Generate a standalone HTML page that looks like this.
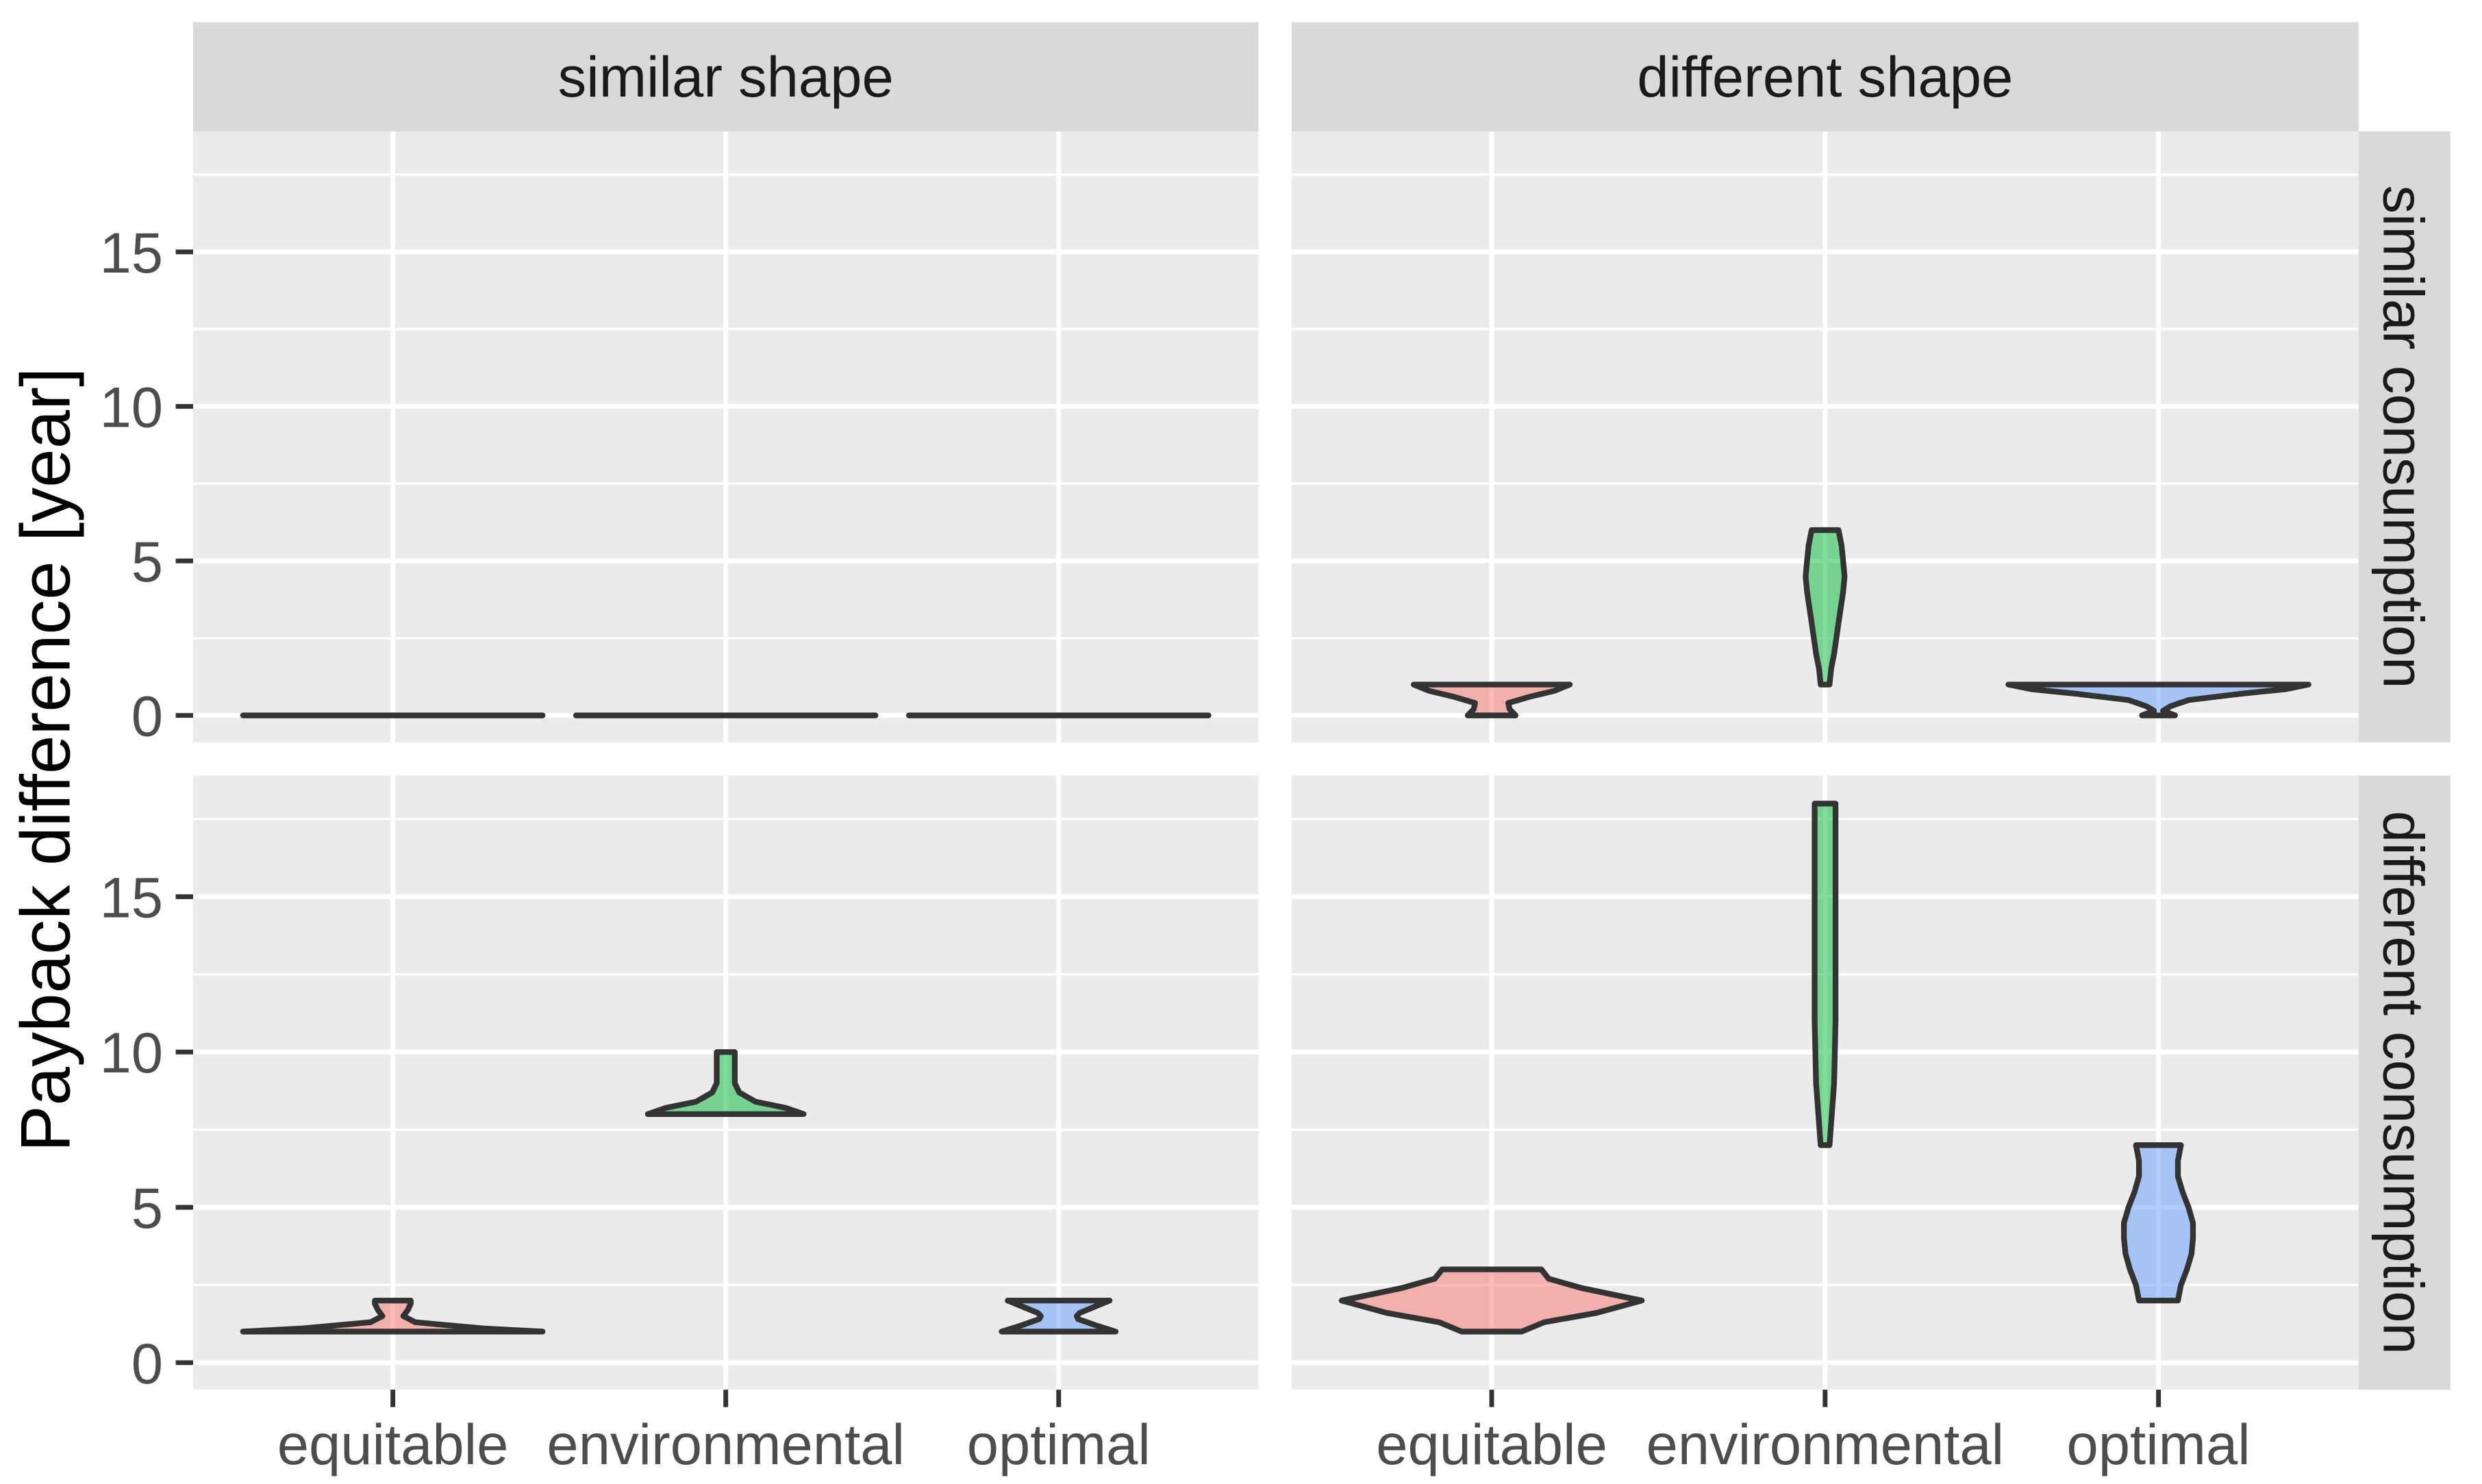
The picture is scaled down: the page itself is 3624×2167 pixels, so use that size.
<!DOCTYPE html>
<html><head><meta charset="utf-8"><style>
html,body{margin:0;padding:0;background:#fff;}
svg{display:block;font-family:"Liberation Sans",Arial,sans-serif;}
</style></head><body>
<svg id="chart" width="3624" height="2167" viewBox="0 0 1568 937.6" preserveAspectRatio="none" xmlns="http://www.w3.org/2000/svg"></svg>
<script>
const categories = ["equitable","environmental","optimal"];
const colCols = ["similar shape","different shape"];
const rowRows = ["similar consumption","different consumption"];
const yTicks = [0,5,10,15];
const yTickLabels = ["0","5","10","15"];
const violinY = [
 [ [[0,0],[0,0],[0,0]],
   [[0,0.2,0.4,0.6,0.8,1],[1,1.5,2,3,4,4.5,5,5.5,6],[0,0.15,0.3,0.5,0.7,0.85,1]] ],
 [ [[1,1.1,1.3,1.5,1.7,1.9,2],[8,8.2,8.4,8.7,9,9.5,10],[1,1.2,1.4,1.5,1.6,1.8,2]],
   [[1,1.3,1.6,2,2.4,2.7,3],[7,9,11,13,15,17,18],[2,2.5,3,3.5,4,4.5,5,5.5,6,6.5,7]] ]
];
const violinW = [
 [ [[1,1],[1,1],[1,1]],
   [[0.16,0.12,0.11,0.25,0.42,0.52],[0.03,0.04,0.06,0.09,0.12,0.13,0.12,0.11,0.09],[0.11,0.03,0.08,0.2,0.55,0.85,1]] ],
 [ [[1,0.6,0.15,0.07,0.1,0.12,0.12],[0.52,0.4,0.2,0.09,0.06,0.06,0.06],[0.38,0.25,0.13,0.12,0.14,0.24,0.34]],
   [[0.2,0.35,0.7,1,0.6,0.38,0.33],[0.03,0.06,0.07,0.07,0.07,0.07,0.07],[0.13,0.15,0.19,0.22,0.23,0.23,0.2,0.16,0.13,0.13,0.15]] ]
];
const fills = ["#F8766D","#00BA38","#619CFF"];

const NS="http://www.w3.org/2000/svg";
const svg=document.getElementById('chart');
function mk(t,a,parent){const e=document.createElementNS(NS,t);for(const k in a)e.setAttribute(k,a[k]);(parent||svg).appendChild(e);return e;}
const panelX=[[122,795],[816,1490]];
const panelY=[[83,469],[490,878]];
const yMin=-0.87,yMax=18.9;
function yScale(r,v){const [t,b]=panelY[r];return b-(v-yMin)/(yMax-yMin)*(b-t);}
function xUnit(c){const [l,r]=panelX[c];return (r-l)/3.2;}
function xScale(c,i){return panelX[c][0]+(i+0.6)*xUnit(c);}

for(let r=0;r<2;r++)for(let c=0;c<2;c++){
  const [l,rr]=panelX[c],[t,b]=panelY[r];
  const bg=mk('rect',{x:l,y:t,width:rr-l,height:b-t,fill:'#EBEBEB'});
  
  
  for(let v=2.5;v<19;v+=5){const y=yScale(r,v);const g=mk('line',{x1:l,x2:rr,y1:y,y2:y,stroke:'#fff','stroke-width':1.5});
    }
  yTicks.forEach(v=>{const y=yScale(r,v);const g=mk('line',{x1:l,x2:rr,y1:y,y2:y,stroke:'#fff','stroke-width':3});
    });
  categories.forEach((k,i)=>{const x=xScale(c,i);const g=mk('line',{x1:x,x2:x,y1:t,y2:b,stroke:'#fff','stroke-width':3});
    });
  const halfMax=0.45*xUnit(c);
  categories.forEach((k,i)=>{
    const ys=violinY[r][c][i],ws=violinW[r][c][i],cx=xScale(c,i);
    let pts=[];
    for(let j=0;j<ys.length;j++)pts.push([cx+ws[j]*halfMax,yScale(r,ys[j])]);
    for(let j=ys.length-1;j>=0;j--)pts.push([cx-ws[j]*halfMax,yScale(r,ys[j])]);
    const d='M'+pts.map(p=>p[0].toFixed(1)+','+p[1].toFixed(1)).join('L')+'Z';
    const p=mk('path',{d:d,fill:fills[i],'fill-opacity':0.5,stroke:'#333','stroke-width':3.6,'stroke-linejoin':'round'});
    
    
  });
}
colCols.forEach((s,c)=>{const [l,rr]=panelX[c];
  const g=mk('rect',{x:l,y:14,width:rr-l,height:69,fill:'#D9D9D9'});
  
  const tx=mk('text',{x:(l+rr)/2,y:61,'text-anchor':'middle','font-size':36,fill:'#1A1A1A'});tx.textContent=s;
  });
rowRows.forEach((s,r)=>{const [t,b]=panelY[r];
  const g=mk('rect',{x:1490,y:t,width:58,height:b-t,fill:'#D9D9D9'});
  
  const cy=(t+b)/2;
  const tx=mk('text',{x:1506,y:cy,'text-anchor':'middle','font-size':36,fill:'#1A1A1A',transform:`rotate(90 1506 ${cy})`});tx.textContent=s;
  });
for(let r=0;r<2;r++){yTicks.forEach((v,j)=>{const y=yScale(r,v);
  const tk=mk('line',{x1:111,x2:122,y1:y,y2:y,stroke:'#333','stroke-width':3});
  
  const tx=mk('text',{x:103,y:y+13,'text-anchor':'end','font-size':36,fill:'#4D4D4D'});tx.textContent=yTickLabels[j];
  });}
for(let c=0;c<2;c++)categories.forEach((k,i)=>{const x=xScale(c,i);
  const tk=mk('line',{x1:x,x2:x,y1:878,y2:889,stroke:'#333','stroke-width':3});
  
  const tx=mk('text',{x:x,y:925,'text-anchor':'middle','font-size':36,fill:'#4D4D4D'});tx.textContent=k;
  });
const yt=mk('text',{x:44,y:480,'text-anchor':'middle','font-size':44,fill:'#000',transform:'rotate(-90 44 480)'});
yt.textContent='Payback difference [year]';

</script>
</body></html>
